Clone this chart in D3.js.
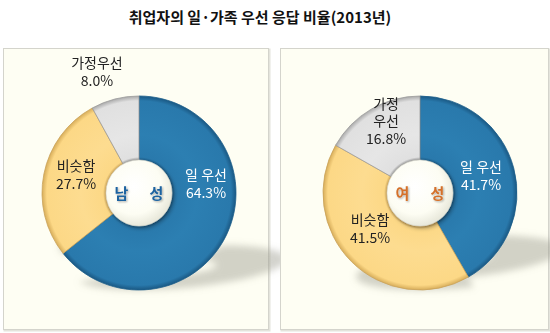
<!DOCTYPE html>
<html>
<head>
<meta charset="utf-8">
<script src="https://cdn.jsdelivr.net/npm/d3@7"></script>
<style>
  body { margin: 0; background: #ffffff; }
  svg { display: block; }
  text { font-family: "Noto Sans CJK KR", "Noto Sans", sans-serif; }
</style>
</head>
<body>
<svg id="chart" width="550" height="333"></svg>
<script>
// Survey: share of employed persons prioritising work vs. family (2013)
const title = "취업자의 일·가족 우선 응답 비율(2013년)";
const categories = ["일 우선", "비슷함", "가정우선"];
const groups = ["남 성", "여 성"];
const maleValues = [64.3, 27.7, 8.0];
const femaleValues = [41.7, 41.5, 16.8];

// Label wording per panel (the women's panel wraps the family label)
const maleLabelLines = [["일 우선"], ["비슷함"], ["가정우선"]];
const femaleLabelLines = [["일 우선"], ["비슷함"], ["가정", "우선"]];

// Styling / layout
const outerR = 97, innerR = 33;
const palette = [
  { light: "#2c7fb2", base: "#2979ac", dark: "#1a5883", edge: "#1d5f8c", text: "#ffffff" },
  { light: "#fddc90", base: "#fcd886", dark: "#d7ad5a", edge: "#caa35a", text: "#222222" },
  { light: "#e6e6e6", base: "#e0e0e0", dark: "#a9a9a9", edge: "#9a9a9a", text: "#222222" }
];
const panels = [
  { x: 3, y: 48, w: 265, h: 281, cx: 139, cy: 193, values: maleValues, lines: maleLabelLines,
    name: groups[0], nameColor: "#1d62a0",
    labelOffsets: [[67, -9], [-63, -18], [-42, -121]] },
  { x: 280, y: 48, w: 268, h: 281, cx: 420, cy: 193, values: femaleValues, lines: femaleLabelLines,
    name: groups[1], nameColor: "#d4702a",
    labelOffsets: [[61, -17], [-50, 36], [-34, -72]] }
];
const lineGap = 17.5;

const svg = d3.select("#chart");
const defs = svg.append("defs");

// soft blur for floor shadows
defs.append("filter").attr("id", "blurShadow")
  .attr("x", "-50%").attr("y", "-50%").attr("width", "200%").attr("height", "200%")
  .append("feGaussianBlur").attr("stdDeviation", 3.5);

// drop shadow for the centre disc
const ds = defs.append("filter").attr("id", "discShadow")
  .attr("x", "-30%").attr("y", "-30%").attr("width", "160%").attr("height", "160%");
ds.append("feGaussianBlur").attr("in", "SourceAlpha").attr("stdDeviation", 2).attr("result", "b");
ds.append("feOffset").attr("in", "b").attr("dx", 1.5).attr("dy", 2).attr("result", "o");
ds.append("feComponentTransfer").attr("in", "o").attr("result", "s")
  .append("feFuncA").attr("type", "linear").attr("slope", 0.35);
const dm = ds.append("feMerge");
dm.append("feMergeNode").attr("in", "s");
dm.append("feMergeNode").attr("in", "SourceGraphic");

// light shadow behind the centre text
const tg = defs.append("filter").attr("id", "textGlow")
  .attr("x", "-30%").attr("y", "-30%").attr("width", "160%").attr("height", "160%");
tg.append("feGaussianBlur").attr("in", "SourceAlpha").attr("stdDeviation", 0.8).attr("result", "b");
tg.append("feOffset").attr("in", "b").attr("dx", 1).attr("dy", 1).attr("result", "o");
tg.append("feComponentTransfer").attr("in", "o").attr("result", "s")
  .append("feFuncA").attr("type", "linear").attr("slope", 0.35);
const tm = tg.append("feMerge");
tm.append("feMergeNode").attr("in", "s");
tm.append("feMergeNode").attr("in", "SourceGraphic");

// centre disc shading
const discGrad = defs.append("radialGradient").attr("id", "discGrad")
  .attr("cx", "42%").attr("cy", "40%").attr("r", "60%");
discGrad.append("stop").attr("offset", "0%").attr("stop-color", "#ffffff");
discGrad.append("stop").attr("offset", "70%").attr("stop-color", "#fdfdf3");
discGrad.append("stop").attr("offset", "100%").attr("stop-color", "#e9e9dc");

// title
svg.append("text")
  .attr("x", 260).attr("y", 23)
  .attr("text-anchor", "middle")
  .attr("font-size", 15).attr("font-weight", "bold").attr("fill", "#111")
  .text(title);

const pie = d3.pie().sort(null).value(d => d);
const arc = d3.arc().innerRadius(innerR).outerRadius(outerR);
const fmt = d3.format(".1f");

panels.forEach((p, pi) => {
  // frame with a faint lower-right edge
  svg.append("rect")
    .attr("x", p.x + 1.5).attr("y", p.y + 1.5).attr("width", p.w).attr("height", p.h)
    .attr("fill", "none").attr("stroke", "#e4e4dc").attr("stroke-width", 2);
  svg.append("rect")
    .attr("x", p.x + 0.5).attr("y", p.y + 0.5).attr("width", p.w).attr("height", p.h)
    .attr("fill", "#fefef3").attr("stroke", "#d4d4cc");

  const g = svg.append("g").attr("transform", `translate(${p.cx},${p.cy})`);
  const arcs = pie(p.values);

  // per-colour bevel gradients centred on this donut
  palette.forEach((c, i) => {
    const rg = defs.append("radialGradient")
      .attr("id", `slice${pi}_${i}`)
      .attr("gradientUnits", "userSpaceOnUse")
      .attr("cx", 0).attr("cy", 0).attr("r", outerR);
    rg.append("stop").attr("offset", innerR / outerR).attr("stop-color", c.edge);
    rg.append("stop").attr("offset", innerR / outerR + 0.03).attr("stop-color", c.base);
    rg.append("stop").attr("offset", 0.6).attr("stop-color", c.light);
    rg.append("stop").attr("offset", 0.95).attr("stop-color", c.base);
    rg.append("stop").attr("offset", 1).attr("stop-color", c.dark);
  });

  // floor shadows: each slice flattened and sheared from its own lowest point
  const shadowLayer = g.append("g").attr("filter", "url(#blurShadow)");
  const slices = g.append("g");
  slices.selectAll("path").data(arcs).join("path")
    .attr("d", arc)
    .attr("fill", (d, i) => `url(#slice${pi}_${i})`)
    .attr("stroke", (d, i) => palette[i].edge)
    .attr("stroke-width", 0.8)
    .each(function (d, i) {
      const bb = this.getBBox();
      const bottom = bb.y + bb.height;
      const sy = 0.23, sh = 0.43;
      shadowLayer.append("path")
        .attr("d", arc(d))
        .attr("fill", "#9e9e90")
        .attr("opacity", 0.45)
        .attr("transform", `matrix(1,0,${-sh},${sy},${sh * bottom},${(1 - sy) * bottom})`);
    });

  // centre disc and group name
  g.append("circle").attr("r", innerR)
    .attr("fill", "url(#discGrad)")
    .attr("stroke", "#d8d8cc").attr("stroke-width", 0.6)
    .attr("filter", "url(#discShadow)");
  const chars = p.name.replace(/\s+/g, "").split("");
  g.selectAll("text.name").data(chars).join("text")
    .attr("class", "name")
    .attr("x", (d, i) => (i - (chars.length - 1) / 2) * 35)
    .attr("y", 5.5)
    .attr("text-anchor", "middle")
    .attr("font-size", 15).attr("font-weight", "bold")
    .attr("fill", p.nameColor)
    .attr("filter", "url(#textGlow)")
    .text(d => d);

  // data labels: one text element per line
  arcs.forEach((d, i) => {
    const lines = p.lines[i].concat([fmt(d.data) + "%"]);
    const [ox, oy] = p.labelOffsets[i];
    lines.forEach((ln, k) => {
      g.append("text")
        .attr("x", ox)
        .attr("y", oy + k * lineGap - (lines.length - 1) * lineGap / 2 + 5)
        .attr("text-anchor", "middle")
        .attr("font-size", 14)
        .attr("fill", palette[i].text)
        .text(ln);
    });
  });
});
</script>
</body>
</html>
